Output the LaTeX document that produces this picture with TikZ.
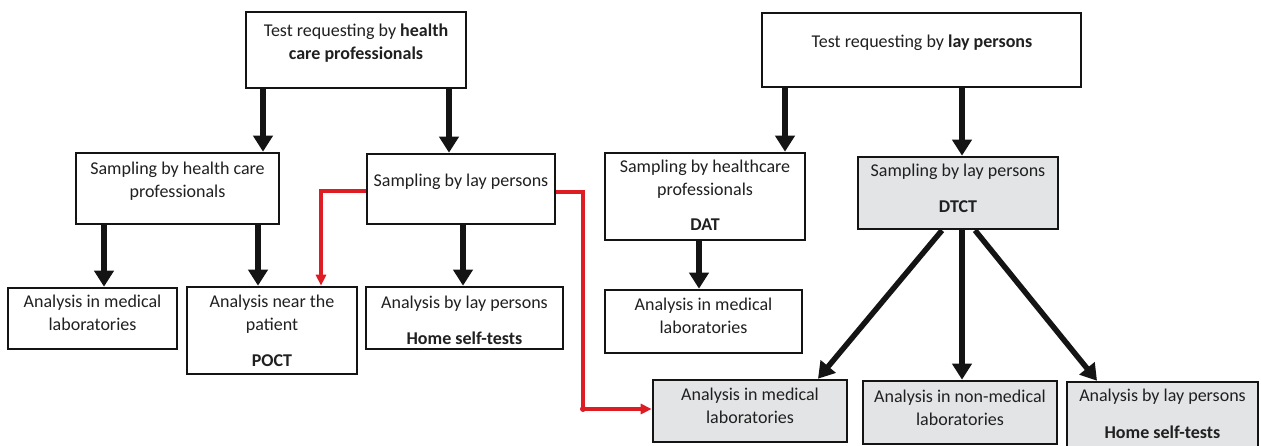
\documentclass[tikz,border=0pt]{standalone}
\usepackage{fontspec}
\setmainfont{Carlito}
\usetikzlibrary{arrows.meta}
\definecolor{ink}{RGB}{32,32,32}
\definecolor{boxline}{RGB}{20,20,20}
\definecolor{greyfill}{RGB}{227,228,230}
\definecolor{redline}{RGB}{222,28,36}
\begin{document}
\begin{tikzpicture}[x=1pt,y=-1pt,
  box/.style={draw=boxline, line width=2.6pt, fill=white, inner sep=0pt},
  greybox/.style={box, fill=greyfill},
  txt/.style={font=\fontsize{18}{23}\selectfont, text=ink, align=center, inner sep=0pt},
  arr/.style={draw=boxline, line width=5.5pt, -{Triangle[width=19pt,length=16pt]}},
  redarr/.style={draw=redline, line width=3.5pt, -{Triangle[width=10pt,length=11pt]}}]
\useasboundingbox (0,0) rectangle (1261,445);

% ---- boxes ----
\node[box, minimum width=220pt, minimum height=76pt] (T1) at (356,50) {};
\node[box, minimum width=319pt, minimum height=74pt] (T2) at (921.5,50) {};
\node[box, minimum width=203pt, minimum height=71pt] (S1) at (177.5,188.5) {};
\node[box, minimum width=188pt, minimum height=70pt] (S2) at (461,189) {};
\node[box, minimum width=200pt, minimum height=87pt] (S3) at (705,196.5) {};
\node[greybox, minimum width=200pt, minimum height=72pt] (S4) at (958,193) {};
\node[box, minimum width=169pt, minimum height=61pt] (A1) at (92.5,318.5) {};
\node[box, minimum width=170pt, minimum height=87pt] (A2) at (272,330.5) {};
\node[box, minimum width=197pt, minimum height=62pt] (A3) at (464.5,318) {};
\node[box, minimum width=197pt, minimum height=63pt] (A4) at (703.5,321.5) {};
\node[greybox, minimum width=194pt, minimum height=62pt] (A5) at (750,411) {};
\node[greybox, minimum width=194pt, minimum height=63pt] (A6) at (960,412.5) {};
\node[greybox, minimum width=191pt, minimum height=66pt] (A7) at (1162.5,415) {};

% ---- texts ----
\node[txt] (T1t) at (356,43.5) {\strut Test requesting by \textbf{health}\\\strut\textbf{care professionals}};
\node[txt] (T2t) at (922,43) {\strut Test requesting by \textbf{lay persons}};
\node[txt] (S1t) at (177.5,181.5) {\strut Sampling by health care\\\strut professionals};
\node[txt] (S2t) at (461,182) {\strut Sampling by lay persons};
\node[txt] (S3t) at (705,196.5) {\strut Sampling by healthcare\\\strut professionals\\[12pt]\strut\textbf{DAT}};
\node[txt] (S4t) at (958,190) {\strut Sampling by lay persons\\[13pt]\strut\textbf{DTCT}};
\node[txt] (A1t) at (92.5,314) {\strut Analysis in medical\\\strut laboratories};
\node[txt] (A2t) at (272,332) {\strut Analysis near the\\\strut patient\\[13pt]\strut\textbf{POCT}};
\node[txt] (A3t) at (464.5,322) {\strut Analysis by lay persons\\[13pt]\strut\textbf{Home self-tests}};
\node[txt] (A4t) at (703.5,317) {\strut Analysis in medical\\\strut laboratories};
\node[txt] (A5t) at (750,407) {\strut Analysis in medical\\\strut laboratories};
\node[txt] (A6t) at (960,409) {\strut Analysis in non-medical\\\strut laboratories};
\node[txt] (A7t) at (1162.5,415.5) {\strut Analysis by lay persons\\[14pt]\strut\textbf{Home self-tests}};

% ---- black connectors ----
\draw[arr] (T1.south -| 263,0) -- (S1.north -| 263,0);
\draw[arr] (T1.south -| 449,0) -- (S2.north -| 449,0);
\draw[arr] (T2.south -| 785,0) -- (S3.north -| 785,0);
\draw[arr] (T2.south -| 962,0) -- (S4.north -| 962,0);
\draw[arr] (S1.south -| 104,0) -- (A1.north -| 104,0);
\draw[arr] (S1.south -| 258,0) -- (A2.north -| 258,0);
\draw[arr] (S2.south -| 463,0) -- (A3.north -| 463,0);
\draw[arr] (S3.south -| 699,0) -- (A4.north -| 699,0);
\draw[arr] (S4.south -| 942,0) -- (A5.north -| 818,0);
\draw[arr] (S4.south -| 962,0) -- (A6.north -| 962,0);
\draw[arr] (S4.south -| 975,0) -- (A7.north -| 1097,0);

% ---- red connectors ----
\coordinate (redL) at (321,191);
\coordinate (redR) at (583,192);
\coordinate (redB) at (583,409);
\draw[redarr] (S2.west |- redL) -- (redL) -- (A2.north -| redL);
\draw[redarr] (S2.east |- redR) -- (redR) -- (redB) -- (A5.west |- redB);
\fill[redline] (redB) circle (3pt);
\end{tikzpicture}
\end{document}
